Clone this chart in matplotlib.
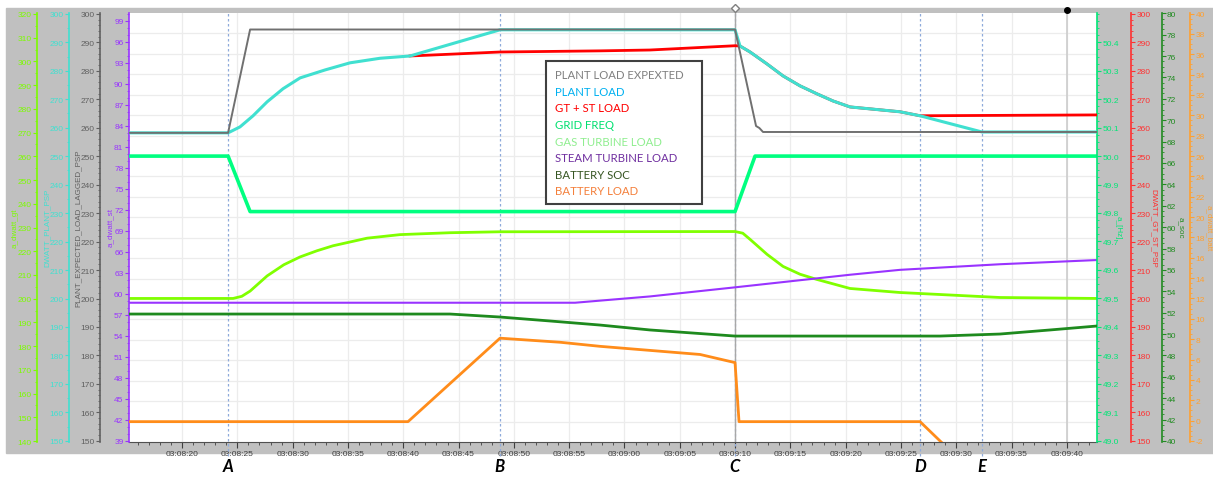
import matplotlib.pyplot as plt
from matplotlib.ticker import MultipleLocator, FixedLocator, FuncFormatter
from matplotlib.patches import Rectangle

plt.rcParams['font.family'] = ['Liberation Sans', 'DejaVu Sans']

# time in seconds after 03:08:00
t_expected = [15.2, 24.16, 26.15, 70.0, 71.9, 72.2, 72.53, 102.73]
v_expected = [258.2, 258.2, 294.5, 294.5, 260.6, 259.9, 258.5, 258.5]

t_plant = [15.2, 24.16, 25.24, 26.42, 27.69, 29.13, 30.67, 32.93, 35.19, 37.9, 40.61,
           48.75, 70.0, 70.45, 71.36, 72.89, 74.34, 75.88, 77.41, 78.86, 80.4,
           84.92, 86.73, 92.33, 102.73]
v_plant = [258.2, 258.2, 260.3, 264.2, 269.1, 273.7, 277.5, 280.3, 282.8, 284.4, 285.2,
           294.4, 294.4, 288.7, 286.6, 282.4, 278.2, 274.7, 271.9, 269.4, 267.3,
           265.6, 264.2, 258.5, 258.5]

t_gtst = [40.61, 48.75, 57.79, 62.31, 70.0, 70.45, 71.36, 72.89, 74.34, 75.88, 77.41,
          78.86, 80.4, 84.92, 86.73, 102.73]
v_gtst = [285.2, 286.6, 287.0, 287.3, 288.8, 288.7, 286.6, 282.4, 278.2, 274.7, 271.9,
          269.4, 267.3, 265.6, 264.2, 264.5]

t_freq = [15.2, 24.16, 26.15, 70.0, 71.81, 102.73]
v_freq = [50.0, 50.0, 49.805, 49.805, 50.0, 50.0]

t_gas = [15.2, 24.61, 25.4, 26.15, 27.69, 29.2, 30.67, 32.2, 33.65, 36.73, 39.71, 44.23, 48.75,
         70.0, 70.7, 71.36, 72.89, 74.34, 75.88, 77.41, 80.4, 84.92, 93.96, 102.73]
v_gas = [200.1, 200.1, 201.0, 203.2, 209.6, 214.3, 217.6, 220.2, 222.3, 225.5, 227.0, 227.8, 228.2,
         228.3, 227.6, 225.0, 218.7, 213.6, 210.3, 208.1, 204.3, 202.6, 200.5, 200.1]

t_steam = [15.2, 55.53, 62.31, 70.0, 80.4, 84.92, 93.96, 102.73]
v_steam = [58.7, 58.7, 59.6, 60.9, 62.7, 63.4, 64.2, 64.8]

t_soc = [15.2, 44.23, 48.75, 53.27, 57.79, 62.31, 70.0, 88.54, 93.96, 98.48, 102.73]
v_soc = [51.87, 51.87, 51.59, 51.22, 50.84, 50.38, 49.81, 49.81, 50.0, 50.38, 50.75]

t_batt = [15.2, 40.43, 48.75, 50.11, 54.18, 57.79, 62.31, 66.84, 70.0, 70.36, 86.73, 88.54, 90.0]
v_batt = [-0.1, -0.1, 8.1, 8.0, 7.7, 7.3, 6.9, 6.5, 5.7, -0.1, -0.1, -2.0, -3.5]

events = ['A', 'B', 'C', 'D', 'E']
t_events = [24.16, 48.75, 70.0, 86.73, 92.33]

legend_names = ['PLANT LOAD EXPEXTED', 'PLANT LOAD', 'GT + ST LOAD', 'GRID FREQ',
                'GAS TURBINE LOAD', 'STEAM TURBINE LOAD', 'BATTERY SOC', 'BATTERY LOAD']
legend_colors = ['#808080', '#00b0f0', '#ff0000', '#00e070', '#90ee90', '#7030a0',
                 '#375623', '#f4803c']

W, H = 1213, 481
L, R, T, B = 129, 1097, 14, 443

fig = plt.figure(figsize=(W / 100, H / 100), dpi=100, facecolor='white')
fig.add_artist(Rectangle((6 / W, 1 - 454 / H), 1, (454 - 9) / H, transform=fig.transFigure,
                         color='#c0c0c0', zorder=-1))

host = fig.add_axes([L / W, 1 - B / H, (R - L) / W, (B - T) / H])
host.set_zorder(0)
host.set_facecolor('white')
host.set_xlim(15.2, 102.73)
host.set_ylim(0, 21)
host.set_yticks([])
for s in ['top', 'left', 'right']:
    host.spines[s].set_visible(False)
host.spines['bottom'].set_color('#505050')
for k in range(1, 21):
    host.axhline(k, color='#ececec', lw=0.9, zorder=0)
for x in range(20, 105, 5):
    host.axvline(x, color='#ececec', lw=0.9, zorder=0)

def fmt_time(s, pos):
    s = int(round(s))
    return '03:%02d:%02d' % (8 + s // 60, s % 60)

host.xaxis.set_major_locator(MultipleLocator(5))
host.xaxis.set_minor_locator(MultipleLocator(1))
host.xaxis.set_major_formatter(FuncFormatter(fmt_time))
host.tick_params(axis='x', which='major', labelsize=6, colors='#404040', length=4, pad=2)
host.tick_params(axis='x', which='minor', colors='#404040', length=2)

for t in t_events:
    host.axvline(t, ymin=-0.045, ymax=1, clip_on=False, color='#8eaadb', lw=0.9, ls=(0, (2, 2)))
host.axvline(70.0, color='#a8a8a8', lw=1.0)
host.axvline(100.0, color='#cccccc', lw=1.2)
host.plot([100.0], [21.15], 'o', color='black', ms=4, clip_on=False)
host.plot([70.0], [21.25], 'D', mfc='white', mec='#808080', ms=4, clip_on=False)


def make_axis(side, pos, lim, color, major, minor, z, fmt='%d', ticks=None):
    ax = host.twinx()
    ax.set_zorder(z)
    ax.set_ylim(*lim)
    for s in ['top', 'bottom', 'left', 'right']:
        ax.spines[s].set_visible(False)
    ax.spines[side].set_visible(True)
    ax.spines[side].set_position(('axes', pos))
    ax.spines[side].set_color(color)
    ax.spines[side].set_linewidth(1.2)
    if side == 'left':
        ax.yaxis.tick_left()
    else:
        ax.yaxis.tick_right()
    if ticks is not None:
        ax.yaxis.set_major_locator(FixedLocator(ticks))
    else:
        ax.yaxis.set_major_locator(MultipleLocator(major))
    ax.yaxis.set_minor_locator(MultipleLocator(minor))
    ax.yaxis.set_major_formatter(FuncFormatter(lambda v, p: fmt % v))
    ax.tick_params(axis='y', which='major', colors=color, labelsize=6, length=3, width=0.8, pad=1)
    ax.tick_params(axis='y', which='minor', colors=color, length=1.5, width=0.6)
    return ax


def xfrac(px):
    return (px - L) / (R - L)

ax_gas = make_axis('left', xfrac(37), (139.6, 320.4), '#7cfc00', 10, 5, 1)
ax_steam = make_axis('left', 0.0, (38.8, 100.1), '#9933ff', 3, 1, 2, ticks=list(range(39, 100, 3)))
ax_freq = make_axis('right', 1.0, (48.995, 50.503), '#00e676', 0.1, 0.025, 3, fmt='%.1f',
                    ticks=[49.0 + 0.1 * i for i in range(15)])
ax_soc = make_axis('right', 1 + (1161.5 - R) / (R - L), (39.9, 80.03), '#228b22', 2, 0.5, 4)
ax_batt = make_axis('right', 1 + (1190 - R) / (R - L), (-2.1, 40.05), '#ffa030', 2, 0.5, 5)
ax_gtst = make_axis('right', 1 + (1131 - R) / (R - L), (149.6, 300.3), '#ff3030', 10, 2, 6)
ax_plant = make_axis('left', xfrac(69), (149.6, 300.3), '#40e0d0', 10, 5, 7)
ax_exp = make_axis('left', xfrac(100), (149.6, 300.3), '#606060', 10, 2, 8)

ax_gas.plot(t_gas, v_gas, color='#80ff00', lw=2)
ax_steam.plot(t_steam, v_steam, color='#9933ff', lw=1.5)
ax_freq.plot(t_freq, v_freq, color='#00ff80', lw=2.6)
ax_soc.plot(t_soc, v_soc, color='#1e8a1e', lw=2)
ax_batt.plot(t_batt, v_batt, color='#ff8c1a', lw=2)
ax_gtst.plot(t_gtst, v_gtst, color='#ff0000', lw=2)
ax_plant.plot(t_plant, v_plant, color='#40e0d0', lw=2.2)
ax_exp.plot(t_expected, v_expected, color='#707070', lw=1.4)

# axis titles
ylabels = [(15, 'a_dwatt_gt', '#7cfc00', 90), (47, 'DWATT_PLANT_PSP', '#40e0d0', 90),
           (78, 'PLANT_EXPECTED_LOAD_LAGGED_PSP', '#606060', 90), (110, 'a_dwatt_st', '#9933ff', 90),
           (1118, 'a_[Hz]', '#00e676', -90), (1154, 'DWATT_GT_ST_PSP', '#ff3030', -90),
           (1181, 'a_soc', '#228b22', -90), (1209, 'a_dwatt_batt', '#ffa030', -90)]
for px, txt, c, rot in ylabels:
    fig.text(px / W, 1 - 228 / H, txt, color=c, fontsize=5.8, rotation=rot, ha='center', va='center')

# legend box
fig.add_artist(Rectangle((546 / W, 1 - 205 / H), (702 - 546) / W, (205 - 62) / H,
                         transform=fig.transFigure, facecolor='white', edgecolor='#404040',
                         lw=1.5, zorder=20))
for i, (name, c) in enumerate(zip(legend_names, legend_colors)):
    fig.text(555 / W, 1 - (75.7 + 16.6 * i) / H, name, color=c, fontsize=8.2,
             family='Lato', ha='left', va='center', zorder=21)

for name, t in zip(events, t_events):
    px = 182 + (t - 20) * 11.06
    fig.text(px / W, 1 - 467 / H, name, fontsize=12, fontweight='bold', style='italic',
             family='Lato', ha='center', va='center')

fig.savefig('out.png', dpi=100, facecolor='white')
